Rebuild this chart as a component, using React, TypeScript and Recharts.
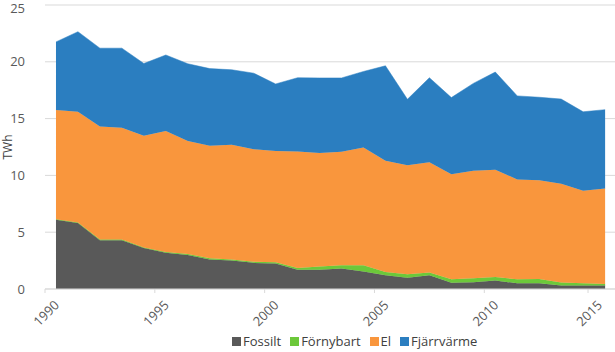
import React from 'react';
import { AreaChart, Area, XAxis, YAxis, CartesianGrid, Legend, Label } from 'recharts';

const years = [
  1990, 1991, 1992, 1993, 1994, 1995, 1996, 1997, 1998, 1999, 2000, 2001, 2002,
  2003, 2004, 2005, 2006, 2007, 2008, 2009, 2010, 2011, 2012, 2013, 2014, 2015,
];
const fossilt = [
  6.1, 5.8, 4.3, 4.3, 3.6, 3.2, 3.0, 2.6, 2.5, 2.3, 2.25, 1.7, 1.7,
  1.8, 1.55, 1.2, 1.0, 1.2, 0.55, 0.6, 0.75, 0.5, 0.5, 0.3, 0.3, 0.3,
];
const fornybart = [
  0.05, 0.05, 0.05, 0.05, 0.05, 0.05, 0.08, 0.1, 0.1, 0.1, 0.1, 0.15, 0.28,
  0.28, 0.55, 0.3, 0.3, 0.25, 0.3, 0.35, 0.3, 0.35, 0.38, 0.27, 0.2, 0.14,
];
const el = [
  9.6, 9.75, 9.95, 9.85, 9.85, 10.65, 9.95, 9.9, 10.1, 9.9, 9.8, 10.25, 10.0,
  10.0, 10.35, 9.8, 9.6, 9.7, 9.25, 9.45, 9.45, 8.8, 8.7, 8.7, 8.15, 8.4,
];
const fjarrvarme = [
  6.0, 7.05, 6.9, 7.0, 6.35, 6.7, 6.8, 6.8, 6.6, 6.7, 5.9, 6.5, 6.6,
  6.5, 6.7, 8.35, 5.8, 7.45, 6.75, 7.7, 8.6, 7.35, 7.3, 7.45, 6.95, 6.95,
];
const xTickYears = [1990, 1995, 2000, 2005, 2010, 2015];
const yTicks = [0, 5, 10, 15, 20, 25];

const series = [
  { key: 'fossilt', name: 'Fossilt', color: '#595959' },
  { key: 'fornybart', name: 'Förnybart', color: '#6cc83a' },
  { key: 'el', name: 'El', color: '#f9963d' },
  { key: 'fjarrvarme', name: 'Fjärrvärme', color: '#2b7ec0' },
];

const data = years.map((year, i) => ({
  year,
  fossilt: fossilt[i],
  fornybart: fornybart[i],
  el: el[i],
  fjarrvarme: fjarrvarme[i],
}));

const FONT = '"Open Sans", sans-serif';
const WIDTH = 615;
const HEIGHT = 352;
const Y_AXIS_W = 45;
const X_DOMAIN: [number, number] = [1989.5, 2015.45];
const halfYearPx = (WIDTH - Y_AXIS_W) / (X_DOMAIN[1] - X_DOMAIN[0]) / 2;

const YearTick = (props: any) => {
  const { x, y, payload } = props;
  const tx = x + 4;
  const ty = y + 17;
  return (
    <g>
      <line x1={x - halfYearPx} x2={x - halfYearPx} y1={y} y2={y + 4} stroke="#d9d9d9" />
      <text
        x={tx}
        y={ty}
        textAnchor="end"
        transform={`rotate(-45, ${tx}, ${ty})`}
        fill="#595959"
        fontSize={13}
        fontFamily={FONT}
      >
        {payload.value}
      </text>
    </g>
  );
};

const LegendContent = () => (
  <div style={{ display: 'flex', fontFamily: FONT, fontSize: 13, color: '#404040' }}>
    {series.map((s) => (
      <div key={s.key} style={{ display: 'flex', alignItems: 'center', marginRight: 9 }}>
        <span style={{ width: 9, height: 9, background: s.color, marginRight: 2 }} />
        <span>{s.name}</span>
      </div>
    ))}
  </div>
);

const App = () => {
  return (
    <div style={{ position: 'absolute', left: 0, top: 0 }}>
      <AreaChart
        width={WIDTH}
        height={HEIGHT}
        data={data}
        margin={{ top: 5, right: 0, left: 0, bottom: 23 }}
      >
        <CartesianGrid vertical={false} stroke="#d9d9d9" />
        <XAxis
          dataKey="year"
          type="number"
          domain={X_DOMAIN}
          ticks={xTickYears}
          allowDataOverflow
          height={40}
          tickLine={false}
          tickSize={0}
          tickMargin={0}
          axisLine={{ stroke: '#d9d9d9' }}
          tick={<YearTick />}
        />
        <YAxis
          width={Y_AXIS_W}
          domain={[0, 25]}
          ticks={yTicks}
          axisLine={false}
          tickLine={false}
          tickSize={0}
          tickMargin={20}
          tick={{ fill: '#595959', fontSize: 13, fontFamily: FONT }}
        >
          <Label
            content={(p: any) => {
              const vb = p.viewBox;
              const cx = vb.x + 12;
              const cy = vb.y + vb.height / 2;
              return (
                <text
                  x={cx}
                  y={cy}
                  textAnchor="middle"
                  transform={`rotate(-90, ${cx}, ${cy})`}
                  fill="#404040"
                  fontSize={12}
                  fontFamily={FONT}
                >
                  TWh
                </text>
              );
            }}
          />
        </YAxis>
        {series.map((s) => (
          <Area
            key={s.key}
            type="linear"
            dataKey={s.key}
            name={s.name}
            stackId="1"
            stroke={s.color}
            strokeWidth={0.5}
            fill={s.color}
            fillOpacity={1}
            isAnimationActive={false}
          />
        ))}
        <Legend
          layout="horizontal"
          verticalAlign="middle"
          align="center"
          content={<LegendContent />}
          wrapperStyle={{ top: 332, left: 232, width: 'auto' }}
        />
      </AreaChart>
    </div>
  );
};

export default App;
